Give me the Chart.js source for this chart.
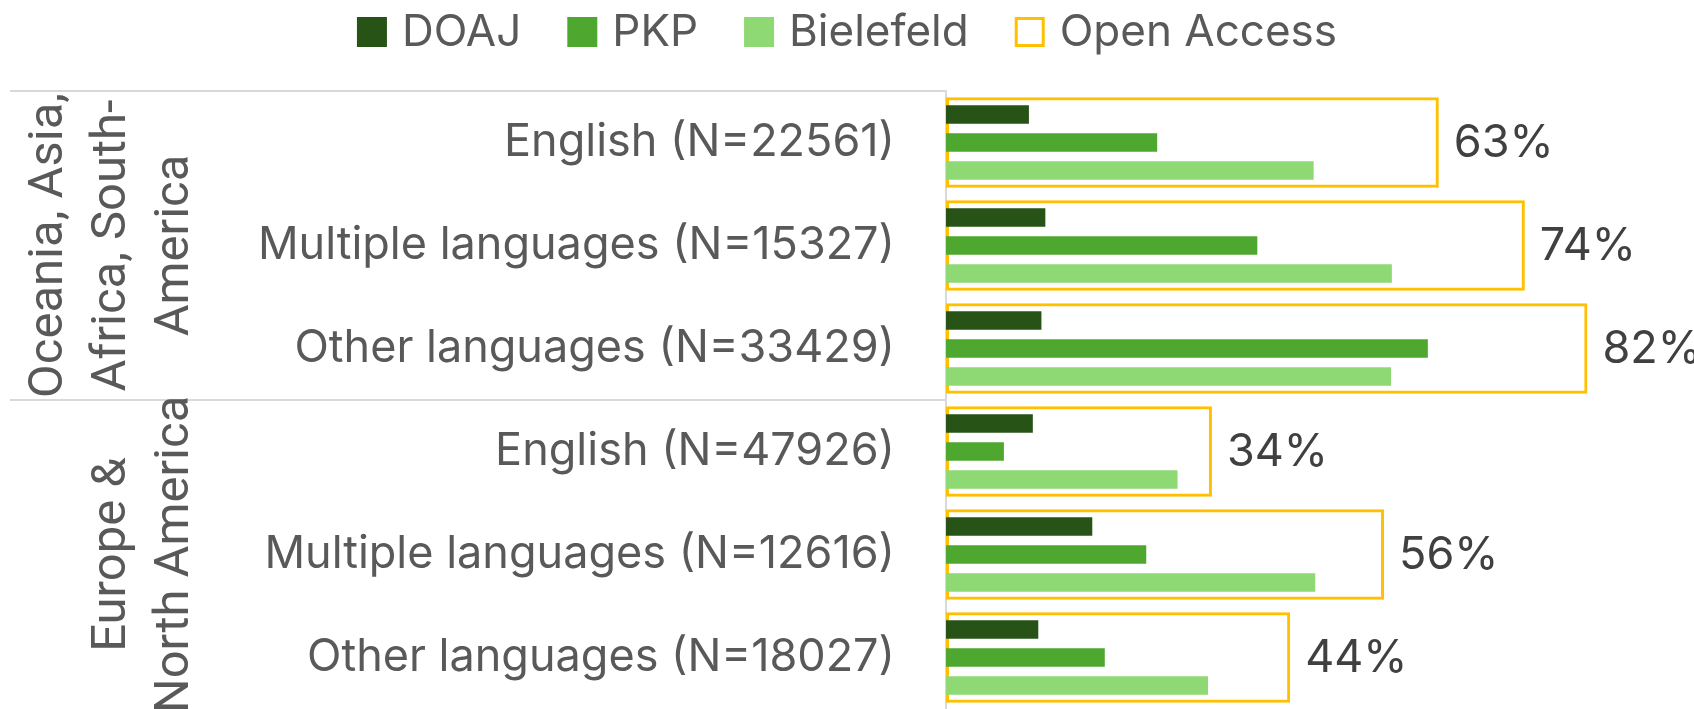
<!DOCTYPE html>
<html>
<head>
<meta charset="utf-8">
<script src="https://cdn.jsdelivr.net/npm/chart.js@4.4.1/dist/chart.umd.min.js"></script>
<style>
  html, body { margin: 0; padding: 0; background: #fff; overflow: hidden; }
</style>
</head>
<body>
<canvas id="chart" width="1694" height="709"></canvas>
<script>
// Values (share of journals, %)
const categories = [
    'English (N=22561)', 'Multiple languages (N=15327)', 'Other languages (N=33429)',
    'English (N=47926)', 'Multiple languages (N=12616)', 'Other languages (N=18027)'
];
const regionLabels = [['Oceania, Asia,', 'Africa, South-', 'America'], ['Europe &', 'North America']];
const regionSizes = [3, 3];
const doaj = [10.6, 12.7, 12.2, 11.1, 18.7, 11.8];
const pkp = [27.0, 39.8, 61.6, 7.4, 25.6, 20.3];
const bielefeld = [47.0, 57.0, 56.9, 29.6, 47.2, 33.5];
const openAccess = [63, 74, 82, 34, 56, 44];

const colors = {
    doaj: '#275317',
    pkp: '#4ea72e',
    biel: '#8ed973',
    oa: '#ffc000',
    text: '#595959',
    pct: '#404040',
    line: '#d9d9d9'
};

// legend drawn across the top, centred
const topLegend = {
    id: 'topLegend',
    afterDraw(chart) {
        const ctx = chart.ctx;
        const items = chart.data.datasets;
        const box = 30, gap = 15, spacing = 46, cy = 32;
        ctx.save();
        ctx.font = '44px Inter';
        const widths = items.map(ds => box + gap + ctx.measureText(ds.label).width);
        const total = widths.reduce((a, b) => a + b, 0) + spacing * (items.length - 1);
        let x = (chart.width - total) / 2;
        items.forEach((ds, i) => {
            if (ds.outlineKey) {
                ctx.strokeStyle = ds.borderColor;
                ctx.lineWidth = 3;
                ctx.strokeRect(x + 1.5, cy - 15 + 1.5, box - 3, box - 3);
            } else {
                ctx.fillStyle = ds.backgroundColor;
                ctx.fillRect(x, cy - 15, box, box);
            }
            ctx.fillStyle = colors.text;
            ctx.textAlign = 'left';
            ctx.textBaseline = 'middle';
            ctx.fillText(ds.label, x + box + gap, cy + 1);
            x += widths[i] + spacing;
        });
        ctx.restore();
    }
};

// region separators and rotated region names
const regionAxis = {
    id: 'regionAxis',
    afterDraw(chart) {
        const ctx = chart.ctx;
        const y = chart.scales.y;
        const pitch = y.getPixelForValue(1) - y.getPixelForValue(0);
        const left = chart.chartArea.left;
        let start = 0;
        ctx.save();
        regionSizes.forEach((n, g) => {
            const top = y.getPixelForValue(start) - pitch / 2;
            const bottom = y.getPixelForValue(start + n - 1) + pitch / 2;
            ctx.strokeStyle = colors.line;
            ctx.lineWidth = 2;
            ctx.beginPath();
            ctx.moveTo(10, top);
            ctx.lineTo(left, top);
            ctx.stroke();

            const lines = regionLabels[g];
            const cy = (top + bottom) / 2;
            ctx.font = '49px Roboto';
            ctx.fillStyle = colors.text;
            ctx.textAlign = 'center';
            ctx.textBaseline = 'middle';
            lines.forEach((txt, k) => {
                const cx = 176 - 63 * (lines.length - 1 - k);
                ctx.save();
                ctx.translate(cx, cy);
                ctx.rotate(-Math.PI / 2);
                ctx.fillText(txt, 0, 0);
                ctx.restore();
            });
            start += n;
        });
        ctx.restore();
    }
};

// percentage next to each Open Access box
const pctLabels = {
    id: 'pctLabels',
    afterDatasetsDraw(chart) {
        const ctx = chart.ctx;
        const meta = chart.getDatasetMeta(3);
        ctx.save();
        ctx.font = '45px Inter';
        ctx.fillStyle = colors.pct;
        ctx.textAlign = 'left';
        ctx.textBaseline = 'middle';
        meta.data.forEach((el, i) => {
            ctx.fillText(openAccess[i] + '%', el.x + 15, el.y + 1);
        });
        ctx.restore();
    }
};

const barOpts = { categoryPercentage: 0.8155, barPercentage: 0.657 };

new Chart(document.getElementById('chart').getContext('2d'), {
    type: 'bar',
    data: {
        labels: categories,
        datasets: [
            { label: 'DOAJ', data: doaj, backgroundColor: colors.doaj, ...barOpts },
            { label: 'PKP', data: pkp, backgroundColor: colors.pkp, ...barOpts },
            { label: 'Bielefeld', data: bielefeld, backgroundColor: colors.biel, ...barOpts },
            {
                label: 'Open Access', data: openAccess, outlineKey: true,
                backgroundColor: 'rgba(0,0,0,0)', borderColor: colors.oa, borderWidth: 3,
                borderSkipped: false, grouped: false, categoryPercentage: 0.878, barPercentage: 1
            }
        ]
    },
    options: {
        indexAxis: 'y',
        responsive: false,
        animation: false,
        layout: { padding: { top: 91, right: 44, bottom: 0, left: 0 } },
        scales: {
            x: { display: false, min: 0, max: 90 },
            y: {
                afterFit(s) {
                    s.width = 946;
                    s.paddingTop = 0;
                    s.paddingBottom = 0;
                },
                grid: { display: false, drawTicks: false },
                border: { display: true, color: colors.line, width: 2 },
                ticks: { color: colors.text, padding: 51, font: { family: 'Inter', size: 45 } }
            }
        },
        plugins: { legend: { display: false }, tooltip: { enabled: false } }
    },
    plugins: [topLegend, regionAxis, pctLabels]
});
</script>
</body>
</html>
